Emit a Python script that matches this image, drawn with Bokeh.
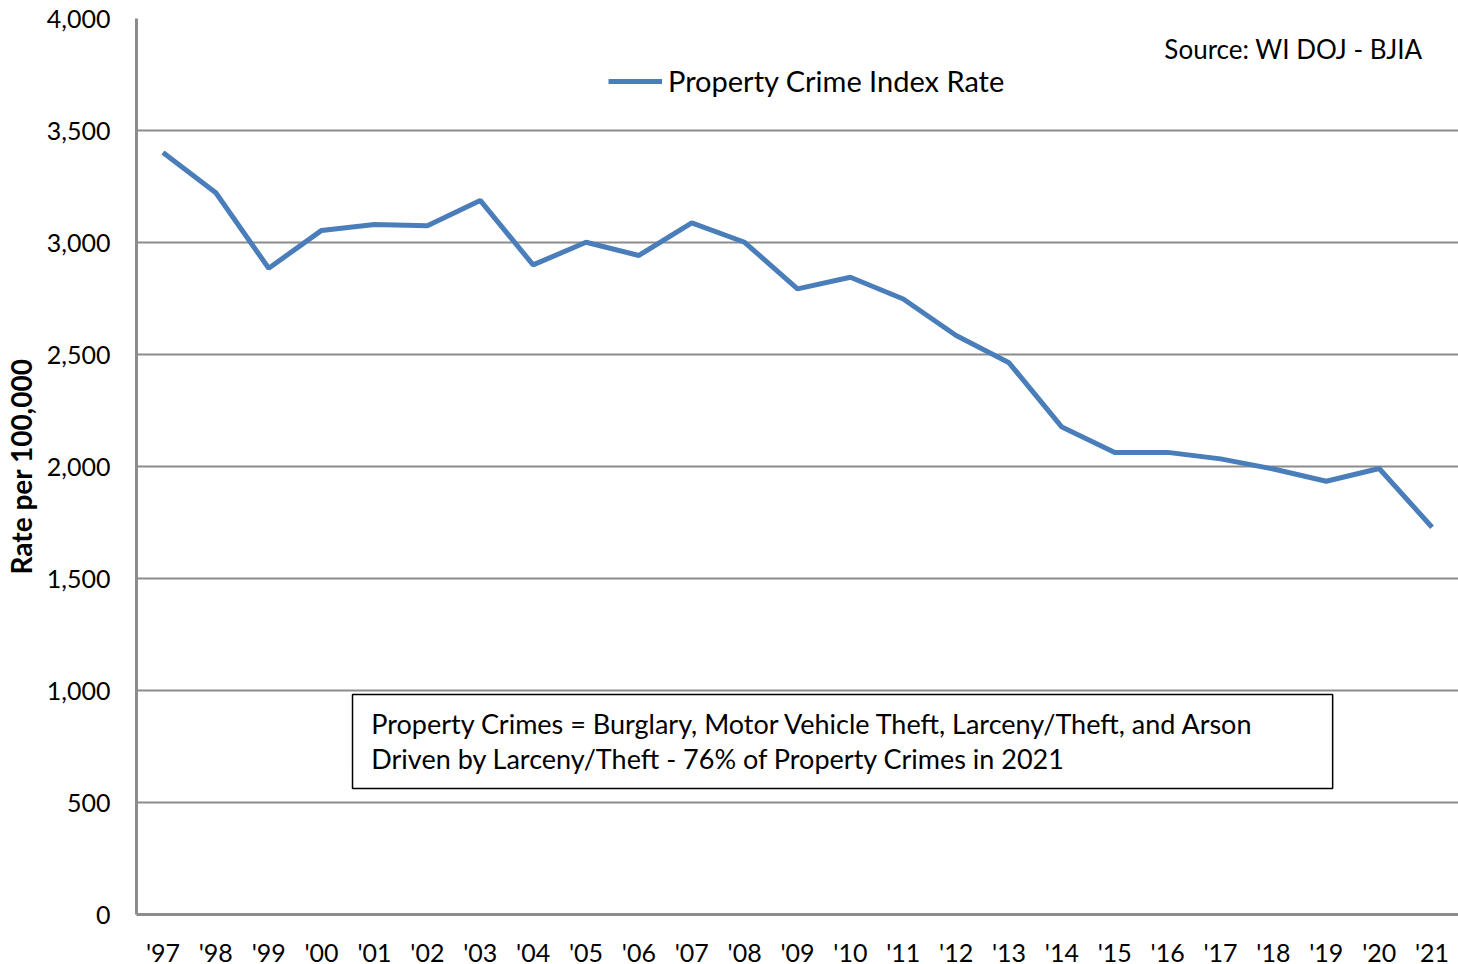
from bokeh.plotting import figure
from bokeh.models import (FactorRange, Range1d, Legend, LegendItem, Label,
                          BoxAnnotation, NumeralTickFormatter, FixedTicker)
from bokeh.embed import file_html
from bokeh.resources import INLINE

years = ["'97", "'98", "'99", "'00", "'01", "'02", "'03", "'04", "'05", "'06",
         "'07", "'08", "'09", "'10", "'11", "'12", "'13", "'14", "'15", "'16",
         "'17", "'18", "'19", "'20", "'21"]
rates = [3402, 3222, 2885, 3054, 3080, 3075, 3188, 2900, 3001, 2942,
         3088, 3001, 2793, 2845, 2748, 2585, 2463, 2176, 2063, 2063,
         2034, 1989, 1934, 1991, 1729]
y_ticks = [0, 500, 1000, 1500, 2000, 2500, 3000, 3500, 4000]
series_name = "Property Crime Index Rate"
source_text = "Source: WI DOJ - BJIA"
note_lines = ["Property Crimes = Burglary, Motor Vehicle Theft, Larceny/Theft, and Arson",
              "Driven by Larceny/Theft - 76% of Property Crimes in 2021"]

FONT = "Lato"
GRID = "#8c8c8c"
BLUE = "#4a7ebb"

p = figure(x_range=FactorRange(factors=years, range_padding=0),
           y_range=Range1d(0, 4000),
           frame_width=1322, frame_height=896,
           min_border_left=136, min_border_top=18, min_border_right=0,
           min_border_bottom=48,
           output_backend="svg", toolbar_location=None,
           background_fill_color="white", border_fill_color="white")
p.outline_line_color = None

line = p.line(x=years, y=rates, line_color=BLUE, line_width=5)

# axes
p.yaxis.ticker = FixedTicker(ticks=y_ticks)
p.yaxis.formatter = NumeralTickFormatter(format="0,0")
for ax in (p.xaxis[0], p.yaxis[0]):
    ax.axis_line_color = GRID
    ax.axis_line_width = 3
    ax.major_tick_line_color = None
    ax.minor_tick_line_color = None
    ax.major_label_text_font = FONT
    ax.major_label_text_font_size = "25px"
    ax.major_label_text_color = "black"
p.yaxis.major_label_standoff = 20
p.xaxis.major_label_standoff = 16
p.yaxis.axis_label = "Rate per 100,000"
p.yaxis.axis_label_text_font = FONT
p.yaxis.axis_label_text_font_size = "28px"
p.yaxis.axis_label_text_font_style = "bold"
p.yaxis.axis_label_text_color = "black"
p.yaxis.axis_label_standoff = 6

p.xgrid.grid_line_color = None
p.ygrid.grid_line_color = GRID
p.ygrid.grid_line_width = 2

# legend
legend = Legend(items=[LegendItem(label=series_name, renderers=[line])],
                location=(472, 816), orientation="horizontal",
                glyph_width=54, glyph_height=20, label_standoff=6,
                padding=0, margin=0, spacing=0,
                border_line_color=None, background_fill_alpha=0,
                label_text_font=FONT, label_text_font_size="29px",
                label_text_color="black")
p.add_layout(legend, "center")

# source label
p.add_layout(Label(x=24.32, y=3862, text=source_text, text_align="right",
                   text_baseline="middle", text_font=FONT,
                   text_font_size="26px", text_color="black"))

# note box
p.add_layout(BoxAnnotation(left=4.085, right=22.62, bottom=562, top=982,
                           fill_color="white", fill_alpha=1,
                           line_color="black", line_alpha=1, line_width=1.5))
for yv, txt in zip([853, 696], note_lines):
    p.add_layout(Label(x=4.44, y=yv, text=txt, text_align="left",
                       text_baseline="middle", text_font=FONT,
                       text_font_size="27px", text_color="black"))

open("out.html", "w").write(file_html(p, INLINE))
